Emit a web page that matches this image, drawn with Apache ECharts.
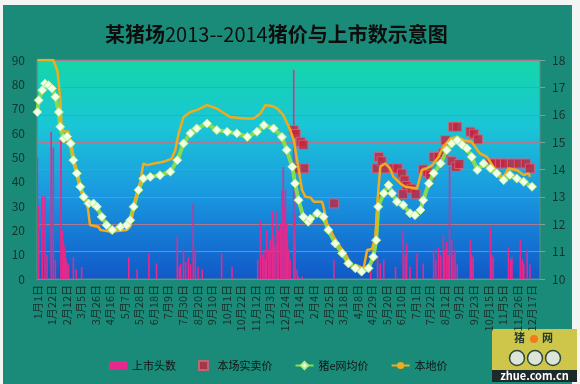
<!DOCTYPE html>
<html><head><meta charset="utf-8">
<script src="https://cdn.jsdelivr.net/npm/echarts@6/dist/echarts.min.js"></script>
<style>
html,body{margin:0;padding:0;background:#f3f4f4;}
#bg{position:absolute;left:3px;top:5px;width:569px;height:379px;background:#1b8b79;}
#main{position:absolute;left:0;top:0;width:580px;height:384px;}
</style></head>
<body><div id="bg"></div><div id="main"></div>
<script>
// categories: daily dates 2013-01-01 .. 2014-12-28 (one day missing in Oct 2014)
const startDate = [2013, 1, 1];
const dayCount = 727;
const skippedDate = '2014-10-01';
const categories = [];
for (let i = 0; i < dayCount; i++) {
  const d = new Date(Date.UTC(startDate[0], startDate[1] - 1, startDate[2] + i));
  const key = d.toISOString().slice(0, 10);
  if (key === skippedDate) continue;
  categories.push(key);
}
const leftTicks = [0, 90, 10];   // min, max, interval
const rightTicks = [10, 18, 1];

// 上市头数 [category index, value]
const headCount = [[0,50],[2,30],[7,34],[11,34],[14,10],[20,60.5],[23,54],[26,8],[34,57],[36,20],[37,16],[38,14.7],[39,13],[40,12],[41,9],[43,7],[45,6],[52,9],[56,4],[64,5],[132,9],[144,4],[161,10.5],[172,6.4],[202,17.4],[205,5],[207,6.4],[211,12],[214,7],[218,9],[221,6],[225,31],[228,12],[232,5],[238,4],[266,10.5],[281,5],[318,8],[322,24],[325,10],[327,12],[329,8],[331,20],[334,12],[336,16],[339,28],[341,18],[343,14],[346,28],[348,20],[351,23],[353,36.5],[355,46],[356,30],[358,36.5],[360,23],[361,16],[363,12],[365,8],[370,86],[372,27],[375,4],[377,1],[382,1],[428,8],[481,5],[491,9],[495,6.4],[500,8],[517,5],[528,20],[531,10],[533,14.7],[538,5],[548,10.5],[557,6.4],[572,12],[575,8],[579,13],[582,10],[586,18],[588,12],[591,15.5],[593,10],[595,46],[598,16],[600,10],[603,12],[606,6],[625,16],[627,10],[629,9],[654,21.5],[656,10],[658,9],[680,13],[683,8],[685,9],[697,16],[700,8],[702,6.4],[707,12],[711,6]];

// 本场实卖价
const farmPrice = [[370,15.44],[373,15.3],[380,15.01],[384,14.9],[385,14.04],[373,14.04],[428,12.76],[490,14.04],[493,14.46],[497,14.3],[502,14.04],[514,14.04],[520,14.04],[526,13.85],[530,13.6],[533,13.4],[528,13.1],[540,13.3],[546,13.1],[557,14.0],[563,13.9],[567,13.8],[572,14.46],[579,14.46],[586,14.6],[589,15.07],[600,15.56],[606,15.56],[598,14.3],[604,14.1],[609,14.2],[625,15.38],[630,15.3],[636,15.1],[654,14.22],[660,14.22],[668,14.22],[675,14.22],[685,14.22],[695,14.22],[705,14.22],[711,14.04]];

// 猪e网均价
const zhuePrice = [[0,16.1],[2,16.53],[7,16.9],[11,17.14],[16,17.08],[21,16.96],[26,16.65],[31,16.1],[33,15.56],[38,15.13],[43,15.2],[48,14.95],[52,14.34],[57,13.86],[62,13.37],[67,13.0],[74,12.76],[81,12.76],[86,12.64],[93,12.27],[100,11.97],[108,11.79],[120,11.91],[129,11.97],[134,12.15],[139,12.64],[146,13.25],[153,13.67],[163,13.73],[177,13.79],[192,13.92],[202,14.34],[211,14.95],[221,15.32],[230,15.5],[245,15.68],[259,15.44],[274,15.38],[288,15.32],[303,15.19],[317,15.38],[327,15.62],[341,15.5],[353,15.19],[360,14.71],[368,14.1],[372,13.49],[377,12.88],[384,12.27],[391,12.09],[394,12.2],[404,12.4],[413,12.27],[420,11.79],[430,11.3],[440,10.94],[449,10.57],[459,10.39],[468,10.27],[478,10.39],[485,10.81],[489,11.42],[492,12.64],[500,13.13],[507,13.43],[512,13.13],[519,12.82],[528,12.7],[538,12.4],[545,12.33],[553,12.52],[557,12.88],[565,13.49],[572,13.86],[582,14.22],[591,14.71],[598,14.95],[606,15.07],[613,14.9],[620,14.77],[627,14.46],[635,13.98],[644,14.22],[654,14.04],[663,13.86],[673,13.61],[682,13.8],[692,13.67],[702,13.55],[714,13.37]];

// 本地价
const localPrice = [[0,18],[23,18],[29,17.6],[33,16.6],[35,15.56],[38,15.4],[45,15.38],[50,14.7],[57,13.87],[62,13.25],[67,13.0],[72,12.77],[76,11.97],[88,11.91],[91,11.79],[105,11.73],[129,11.79],[134,11.91],[141,12.88],[149,13.6],[153,14.22],[158,14.16],[168,14.22],[182,14.28],[194,14.4],[199,14.7],[204,15.32],[211,15.92],[221,16.1],[230,16.17],[245,16.35],[259,16.23],[278,15.92],[298,15.86],[312,15.86],[322,16.05],[329,16.35],[339,16.32],[346,16.23],[355,15.99],[365,15.44],[370,15.07],[375,14.34],[382,13.25],[387,13.0],[394,12.98],[399,12.82],[411,12.82],[413,12.64],[418,12.03],[428,11.54],[437,11.18],[447,10.81],[454,10.45],[461,10.5],[471,10.39],[476,11.06],[483,11.1],[488,11.54],[491,12.88],[495,14.1],[502,14.22],[509,14.04],[514,13.73],[524,13.49],[531,13.37],[548,13.31],[555,13.98],[562,14.04],[570,14.16],[579,14.46],[586,14.83],[596,15.13],[606,15.19],[615,15.07],[627,15.01],[635,14.71],[639,14.59],[649,14.46],[658,14.1],[666,13.8],[673,13.73],[680,14.04],[692,13.98],[702,13.8],[709,13.86],[711,13.73]];

const chart = echarts.init(document.getElementById('main'), null, {renderer: 'canvas'});
const labelColor = '#17302b';
const font = '"Noto Sans CJK SC", "Noto Sans", sans-serif';
chart.setOption({
  backgroundColor: 'transparent',
  animation: false,
  textStyle: {fontFamily: font},
  title: {
    text: '{a|某猪场}{b|2013--2014}{c|猪价与上市数示意图}',
    left: 100, top: 19,
    textStyle: {
      rich: {
        a: {fontFamily: font, fontSize: 20, fontWeight: 'bold', color: '#0d0d0d'},
        b: {fontFamily: font, fontSize: 20, fontWeight: 'normal', color: '#0d0d0d'},
        c: {fontFamily: font, fontSize: 20, fontWeight: 'bold', color: '#0d0d0d'}
      }
    }
  },
  legend: {
    left: 104, top: 355, itemGap: 22, itemWidth: 18, itemHeight: 9,
    textStyle: {color: '#141414', fontSize: 11, fontFamily: font},
    data: [
      {name: '上市头数', icon: 'rect', itemStyle: {color: '#e8288a'}},
      {name: '本场实卖价', icon: 'path://M0,0L10,0L10,10L0,10Z'},
      {name: '猪e网均价'},
      {name: '本地价'}
    ]
  },
  grid: {
    left: 37, right: 40, top: 60, bottom: 105,
    show: true, borderColor: '#5d8f87', borderWidth: 1,
    backgroundColor: new echarts.graphic.LinearGradient(0, 0, 0, 1, [
      {offset: 0, color: '#14d6a8'},
      {offset: 0.3, color: '#1ac6d6'},
      {offset: 0.6, color: '#1a9ae0'},
      {offset: 1, color: '#1158c8'}
    ])
  },
  xAxis: {
    type: 'category', data: categories, boundaryGap: true,
    axisLine: {show: true, lineStyle: {color: '#b46a90'}},
    axisTick: {show: false},
    axisLabel: {
      interval: 20, rotate: 90, fontSize: 11, color: labelColor, margin: 6,
      formatter: v => (+v.slice(5, 7)) + '月' + (+v.slice(8, 10)) + '日'
    },
    splitLine: {show: false}
  },
  yAxis: [
    {
      type: 'value', min: leftTicks[0], max: leftTicks[1], interval: leftTicks[2],
      axisLine: {show: true, lineStyle: {color: '#b46a90'}},
      axisTick: {show: false},
      axisLabel: {fontSize: 12, color: labelColor, margin: 12},
      splitLine: {show: false}
    },
    {
      type: 'value', min: rightTicks[0], max: rightTicks[1], interval: rightTicks[2],
      position: 'right',
      axisLine: {show: false},
      axisTick: {show: true, length: 5, lineStyle: {color: '#7aa39c'}},
      axisLabel: {fontSize: 12, color: labelColor, margin: 12},
      splitLine: {show: true, lineStyle: {color: '#ab7a92', width: 1}}
    }
  ],
  series: [
    {
      name: '上市头数', type: 'bar', yAxisIndex: 0, data: headCount,
      barWidth: 1.6, itemStyle: {color: '#e8288a'}
    },
    {
      name: '本场实卖价', type: 'scatter', yAxisIndex: 1, data: farmPrice,
      symbol: 'rect', symbolSize: 9,
      itemStyle: {color: '#c8223a', borderColor: '#e0607a', borderWidth: 1}
    },
    {
      name: '猪e网均价', type: 'line', yAxisIndex: 1, data: zhuePrice,
      symbol: 'diamond', symbolSize: 9, showAllSymbol: true,
      lineStyle: {color: '#86dc50', width: 4},
      itemStyle: {color: '#f2ffe8', borderColor: '#b6ec88', borderWidth: 1}
    },
    {
      name: '本地价', type: 'line', yAxisIndex: 1, data: localPrice,
      symbol: 'none', lineStyle: {color: '#f0ac1c', width: 2.5},
      itemStyle: {color: '#f0ac1c'}
    }
  ],
  graphic: [
    {
      type: 'group', left: 492, top: 329, z: 100,
      children: [
        {type: 'rect', shape: {x: 0, y: 0, width: 85, height: 41}, style: {fill: '#cdc64a'}},
        {type: 'text', style: {x: 22, y: 3, text: '猪', fontSize: 11, fontWeight: 'bold', fill: '#1e3a30', fontFamily: font}},
        {type: 'circle', shape: {cx: 42, cy: 10, r: 4}, style: {fill: '#f07a1e'}},
        {type: 'text', style: {x: 50, y: 3, text: '网', fontSize: 11, fontWeight: 'bold', fill: '#1e3a30', fontFamily: font}},
        {type: 'circle', shape: {cx: 25, cy: 29, r: 7.5}, style: {fill: '#dde4d8', stroke: '#2c4a3c', lineWidth: 1.5}},
        {type: 'circle', shape: {cx: 43, cy: 29, r: 7.5}, style: {fill: '#dde4d8', stroke: '#2c4a3c', lineWidth: 1.5}},
        {type: 'circle', shape: {cx: 61, cy: 29, r: 7.5}, style: {fill: '#dde4d8', stroke: '#2c4a3c', lineWidth: 1.5}},
        {type: 'rect', shape: {x: 0, y: 41, width: 85, height: 12}, style: {fill: '#1c2b2a'}},
        {type: 'text', style: {x: 42.5, y: 41.5, text: 'zhue.com.cn', align: 'center', fontSize: 11, fontWeight: 'bold', fill: '#ffffff', fontFamily: font}}
      ]
    }
  ]
});
</script></body></html>
